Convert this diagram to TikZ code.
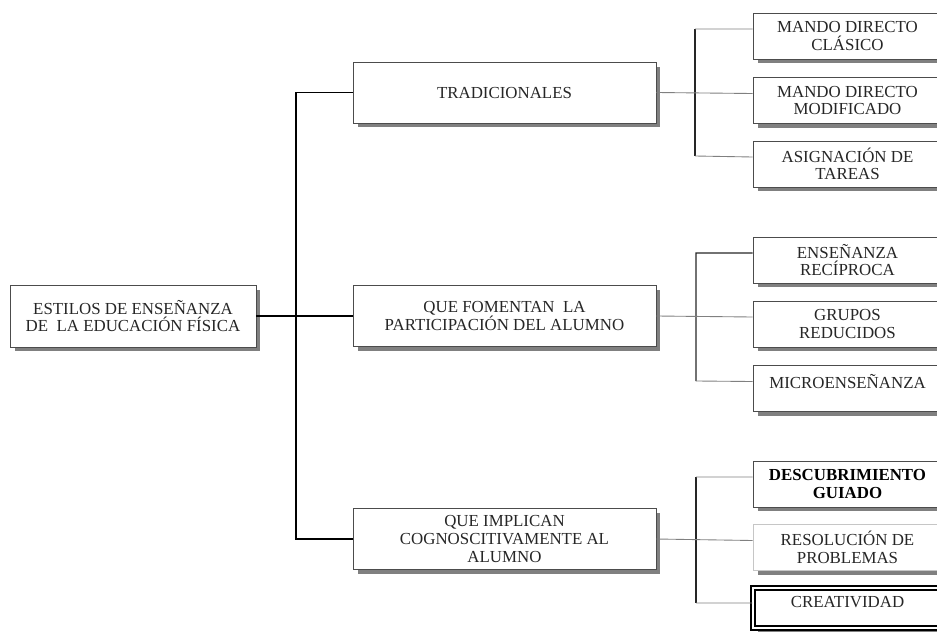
\documentclass[tikz,border=0pt]{standalone}
\usepackage{fontspec}
\setmainfont{Liberation Serif}
\usepackage{tikz}
\usetikzlibrary{shadows}

\begin{document}
\begin{tikzpicture}[
  x=0.02cm,
  y=-0.02cm,
  every node/.style={font=\fontsize{9.6}{10}\selectfont,inner sep=0pt,align=center,text=black!85},
  box/.style={draw=gray!60!black,fill=white,line width=0.5pt,
    drop shadow={shadow xshift=0.09cm,shadow yshift=-0.09cm,fill=black!50,opacity=1}},
  rootbox/.style={box,minimum width=4.92cm,minimum height=1.24cm},
  midbox/.style={box,minimum width=6.06cm,minimum height=1.22cm},
  leaf/.style={box,minimum width=3.78cm,minimum height=0.92cm},
  oneline/.style={text height=7pt,text depth=7.5pt},
  trunk/.style={line width=1pt},
  stem/.style={line width=0.8pt,black!85},
  twig/.style={line width=0.5pt,gray}
]
\useasboundingbox (0,0) rectangle (937,632);

% Root
\node[rootbox] (root) at (133,316) {ESTILOS DE ENSEÑANZA\\DE\ \ LA EDUCACIÓN FÍSICA};

% Second level
\node[midbox] (trad) at (504.5,92.5) {TRADICIONALES};
\node[midbox] (fom) at (504.5,316) {QUE FOMENTAN\ \ LA\\PARTICIPACIÓN DEL ALUMNO};
\node[midbox] (impl) at (504.5,539) {QUE IMPLICAN\\COGNOSCITIVAMENTE AL\\ALUMNO};

\coordinate (jn) at (296,316);
\draw[trunk] (root.east) -- (fom.west);
\draw[trunk] (trad.west) -| (jn) |- (impl.west);

% Third level
\node[leaf] (b11) at (847.5,36) {MANDO DIRECTO\\CLÁSICO};
\node[leaf] (b12) at (847.5,100.5) {MANDO DIRECTO\\MODIFICADO};
\node[leaf] (b13) at (847.5,164) {ASIGNACIÓN DE\\TAREAS};

\node[leaf] (b21) at (847.5,260) {ENSEÑANZA\\RECÍPROCA};
\node[leaf] (b22) at (847.5,324) {GRUPOS\\REDUCIDOS};
\node[leaf,oneline] (b23) at (847.5,388.5) {MICROENSEÑANZA};

\node[leaf,font=\fontsize{9.6}{10}\selectfont\bfseries,text=black] (b31) at (847.5,484) {DESCUBRIMIENTO\\GUIADO};
\node[leaf,draw=gray!45] (b32) at (847.5,547.5) {RESOLUCIÓN DE\\PROBLEMAS};
\node[leaf,oneline,minimum height=0.8cm,draw=black,line width=0.8pt,double=white,double distance=1.6pt] (b33) at (847.5,608) {CREATIVIDAD};

% Branches
\coordinate (k11) at (695,29);
\coordinate (k13) at (695,156);
\draw[stem] (k11) -- (k13);
\draw[twig] (trad.east) -- ([yshift=0.14cm]b12.west);
\draw[twig] (k11) -- ([yshift=0.14cm]b11.west);
\draw[twig] (k13) -- ([yshift=0.14cm]b13.west);

\coordinate (k21) at (696,253);
\coordinate (k23) at (696,381);
\draw[stem] ([yshift=0.14cm]b21.west) -- (k21) -- (k23);
\draw[twig] (fom.east) -- ([yshift=0.14cm]b22.west);
\draw[twig] (k23) -- ([yshift=0.14cm]b23.west);

\coordinate (k31) at (696,477);
\coordinate (k33) at (696,603);
\draw[stem] (k31) -- (k33);
\draw[twig] (impl.east) -- ([yshift=0.14cm]b32.west);
\draw[twig] (k31) -- ([yshift=0.14cm]b31.west);
\draw[twig] (k33) -- ([yshift=0.1cm]b33.west);
\end{tikzpicture}
\end{document}
